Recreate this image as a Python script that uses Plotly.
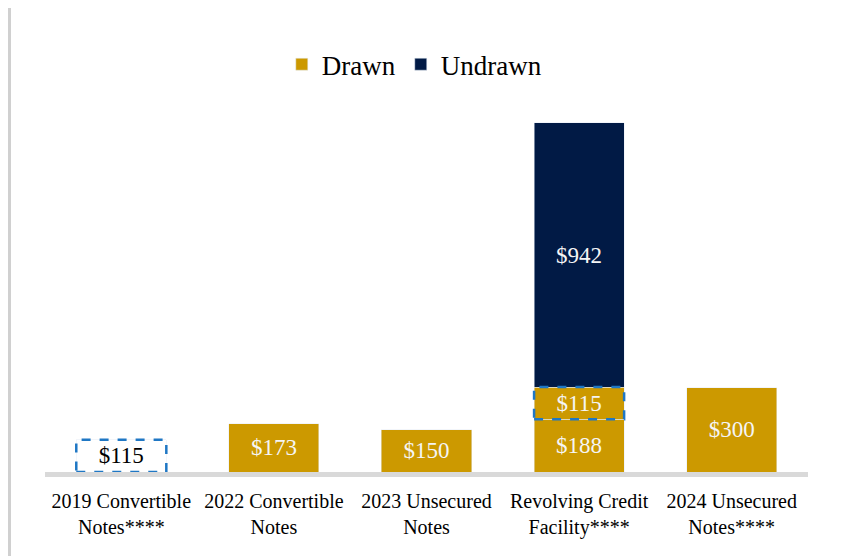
import plotly.graph_objects as go

categories = ["2019 Convertible<br>Notes****", "2022 Convertible<br>Notes",
              "2023 Unsecured<br>Notes", "Revolving Credit<br>Facility****",
              "2024 Unsecured<br>Notes****"]
drawn = [None, 173, 150, 188, 300]
drawn_converted = [None, None, None, 115, None]   # gold, dashed outline
outline_only = [115, None, None, None, None]      # no fill, dashed outline
undrawn = [None, None, None, 942, None]

GOLD = "#CC9900"
NAVY = "#011A45"
DASH = "#1F77C4"
FONT = "Palatino Linotype, Book Antiqua, Liberation Serif, serif"

def labels(vals):
    return [f"${v:,}" if v is not None else "" for v in vals]

fig = go.Figure()
fig.add_bar(x=categories, y=drawn, name="Drawn", marker_color=GOLD,
            text=labels(drawn), textposition="inside", insidetextanchor="middle",
            textfont=dict(color="#F5F5F5", size=23, family=FONT))
fig.add_bar(x=categories, y=drawn_converted, name="Drawn", showlegend=False,
            marker_color=GOLD, text=labels(drawn_converted), textposition="inside",
            insidetextanchor="middle",
            textfont=dict(color="#F5F5F5", size=23, family=FONT))
fig.add_bar(x=categories, y=outline_only, name="", showlegend=False,
            marker_color="rgba(0,0,0,0)", text=labels(outline_only),
            textposition="inside", insidetextanchor="middle",
            textfont=dict(color="#000000", size=23, family=FONT))
fig.add_bar(x=categories, y=undrawn, name="Undrawn", marker_color=NAVY,
            text=labels(undrawn), textposition="inside", insidetextanchor="middle",
            textfont=dict(color="#F5F5F5", size=23, family=FONT))

BARGAP = 0.41
half = (1 - BARGAP) / 2
shapes = []
for i in range(len(categories)):
    base = drawn[i] or 0
    for vals in (drawn_converted, outline_only):
        v = vals[i]
        if v:
            b = base if vals is drawn_converted else 0
            shapes.append(dict(type="rect", xref="x", yref="y",
                               x0=i - half, x1=i + half, y0=b, y1=b + v,
                               line=dict(color=DASH, width=2.5, dash="dash"),
                               fillcolor="rgba(0,0,0,0)", layer="above"))
# left border line (at the figure's left edge)
shapes.append(dict(type="line", xref="paper", yref="paper",
                   x0=-35.5 / 763, x1=-35.5 / 763, y0=-0.3, y1=1.35,
                   line=dict(color="#D0D0D0", width=3)))

fig.update_layout(
    width=844, height=548,
    margin=dict(l=37, r=44, t=92, b=84),
    barmode="stack", bargap=BARGAP,
    paper_bgcolor="white", plot_bgcolor="white",
    font=dict(family=FONT, color="#000000"),
    showlegend=True,
    legend=dict(orientation="h", x=0.484, xanchor="center", y=1.095,
                yanchor="middle", font=dict(size=27, family=FONT),
                itemclick=False, traceorder="normal"),
    uniformtext=dict(minsize=23, mode="show"),
    shapes=shapes,
    hovermode=False,
)
fig.update_xaxes(type="category", showline=True, linecolor="#D9D9D9", linewidth=5,
                 ticks="", showgrid=False, zeroline=False, ticklabelstandoff=7,
                 tickfont=dict(size=20, family=FONT, color="#000000"))
fig.update_yaxes(visible=False, range=[0, 1327], showgrid=False, zeroline=False)

fig.write_html("out.html")
